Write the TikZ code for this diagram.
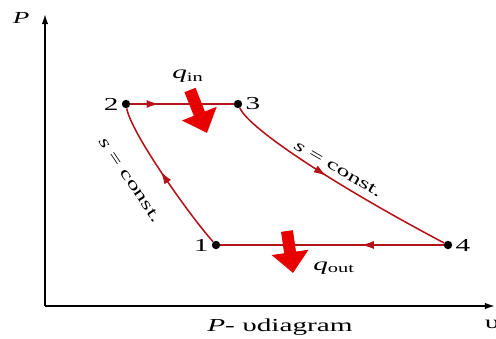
\documentclass[tikz,border=0pt]{standalone}
\usepackage{fontspec}
\setmainfont[FakeStretch=1.6]{Liberation Serif}
\usepackage{amsmath}
\usepackage{tikz}
\usetikzlibrary{arrows.meta, positioning, decorations.markings}

\definecolor{cycle}{RGB}{180,20,25}
\definecolor{heat}{RGB}{232,0,0}

\begin{document}
\begin{tikzpicture}[
    x=0.025cm, y=0.025cm,
    node distance=1pt,
    dot/.style={circle, fill=black, inner sep=0pt, minimum size=2.1mm},
    num/.style={font=\fontsize{13}{15}\selectfont, inner sep=1pt},
    note/.style={font=\fontsize{11.5}{13}\selectfont, inner sep=1pt},
    proc/.style={draw=cycle, color=cycle, line width=1.1pt},
    midarrow/.style={postaction={decorate}, decoration={markings,
                mark=at position #1 with {\arrow{Latex[length=3.2mm,width=2mm]}}}},
    heatarrow/.style={draw=heat, color=heat, line width=8.5pt,
                -{Triangle[length=5.2mm,width=9mm]}},
    axisline/.style={line width=1.1pt, -{Latex[length=2.5mm,width=1.6mm]}}
]
\useasboundingbox (0,0) rectangle (496,338);

% axes
\coordinate (o) at (45,32);
\coordinate (ptop) at (45,324);
\coordinate (vend) at (495,32);
\draw[axisline] (o) -- (ptop);
\draw[axisline] (o) -- (vend);
\node[font=\fontsize{12}{14}\selectfont\itshape] (plab) at (21,320) {P};
\node[num] (vlab) at (492,14) {υ};
\node[num] (cap) at (280,11) {\textit{P}- υdiagram};

% states
\node[dot] (p1) at (216,93) {};
\node[dot] (p2) at (126,234) {};
\node[dot] (p3) at (238,234) {};
\node[dot] (p4) at (448,93) {};
\node[num, left=of p1] (l1) {1};
\node[num, left=of p2] (l2) {2};
\node[num, right=of p3] (l3) {3};
\node[num, right=of p4] (l4) {4};

% processes
\draw[proc, midarrow=0.28] (p2) -- (p3);
\draw[proc, midarrow=0.45] (p3) .. controls (250,208) and (340,150) .. (p4);
\draw[proc, midarrow=0.37] (p4) -- (p1);
\draw[proc, midarrow=0.55] (p1) .. controls (190,122) and (131,205) .. (p2);

\node[note, rotate=-56] (s12) at (130,158) {\textit{s} = const.};
\node[note, rotate=-30] (s34) at (338,169) {\textit{s} = const.};

% heat in / out
\coordinate (qinA) at (190,248);
\coordinate (qinB) at (207,205);
\draw[heatarrow] (qinA) -- (qinB);
\node[font=\fontsize{13}{15}\selectfont, inner sep=1pt] (qin) at (188,262) {\textit{q}$_{\text{in}}$};
\coordinate (qoutA) at (287,107);
\coordinate (qoutB) at (293,65);
\draw[heatarrow] (qoutA) -- (qoutB);
\node[font=\fontsize{13}{15}\selectfont, inner sep=1pt] (qout) at (334,70) {\textit{q}$_{\text{out}}$};
\end{tikzpicture}
\end{document}
